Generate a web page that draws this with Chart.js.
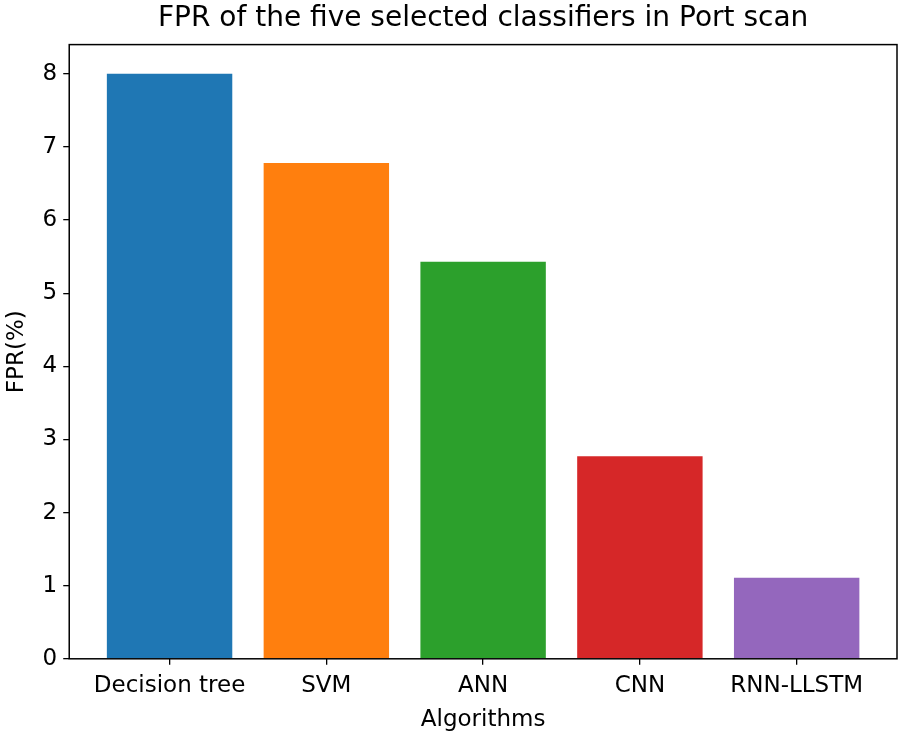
<!DOCTYPE html>
<html lang="en">
<head>
    <meta charset="UTF-8">
    <script src="https://cdn.jsdelivr.net/npm/chart.js"></script>
    <title>FPR Port scan</title>
    <style>
        body { margin: 0; background: #fff; }
    </style>
</head>
<body>
    <canvas id="myChart" width="900" height="735"></canvas>
    <script>
        const algorithms = ["Decision tree", "SVM", "ANN", "CNN", "RNN-LLSTM"]
        const fprValues = [8.0, 6.78, 5.43, 2.77, 1.11]
        const barColors = ["#1f77b4", "#ff7f0e", "#2ca02c", "#d62728", "#9467bd"]
        const yTicks = [0, 1, 2, 3, 4, 5, 6, 7, 8]

        const font = "'DejaVu Sans', sans-serif"

        const frame = {
            id: 'frame',
            afterDraw(chart) {
                const {ctx, chartArea: a} = chart
                ctx.save()
                ctx.strokeStyle = '#000'
                ctx.lineWidth = 1.5
                ctx.strokeRect(a.left, a.top, a.right - a.left, a.bottom - a.top)
                ctx.restore()
            }
        }

        new Chart(document.getElementById('myChart'), {
            type: 'bar',
            data: {
                datasets: [{
                    data: fprValues.map((v, i) => ({x: i, y: v})),
                    backgroundColor: barColors,
                    borderWidth: 0,
                    barPercentage: 0.8,
                    categoryPercentage: 1.0
                }]
            },
            options: {
                responsive: false,
                animation: false,
                layout: { padding: { left: 3, right: 3, top: 0, bottom: 1 } },
                plugins: {
                    legend: { display: false },
                    tooltip: { enabled: false },
                    title: {
                        display: true,
                        text: 'FPR of the five selected classifiers in Port scan',
                        color: '#000',
                        fullSize: false,
                        font: { family: font, size: 28, weight: 'normal' },
                        padding: { top: 2, bottom: 9 }
                    }
                },
                scales: {
                    x: {
                        type: 'linear',
                        offset: false,
                        min: -0.64,
                        max: 4.64,
                        afterBuildTicks: axis => { axis.ticks = algorithms.map((_, i) => ({value: i})) },
                        ticks: {
                            color: '#000',
                            font: { family: font, size: 23 },
                            padding: 7,
                            maxRotation: 0,
                            autoSkip: false,
                            callback: value => algorithms[value]
                        },
                        grid: { offset: false, drawOnChartArea: false, drawTicks: true, tickLength: 6, color: '#000', lineWidth: 1.3 },
                        border: { display: false },
                        title: {
                            display: true,
                            text: 'Algorithms',
                            color: '#000',
                            font: { family: font, size: 23 },
                            padding: { top: 0, bottom: 0 }
                        }
                    },
                    y: {
                        min: 0,
                        max: 8.4,
                        afterBuildTicks: axis => { axis.ticks = yTicks.map(v => ({value: v})) },
                        ticks: {
                            color: '#000',
                            font: { family: font, size: 23 },
                            padding: 6
                        },
                        grid: { drawOnChartArea: false, drawTicks: true, tickLength: 6, color: '#000', lineWidth: 1.3 },
                        border: { display: false },
                        title: {
                            display: true,
                            text: 'FPR(%)',
                            color: '#000',
                            font: { family: font, size: 23 },
                            padding: { top: 0, bottom: 6 }
                        }
                    }
                }
            },
            plugins: [frame]
        })
    </script>
</body>
</html>
